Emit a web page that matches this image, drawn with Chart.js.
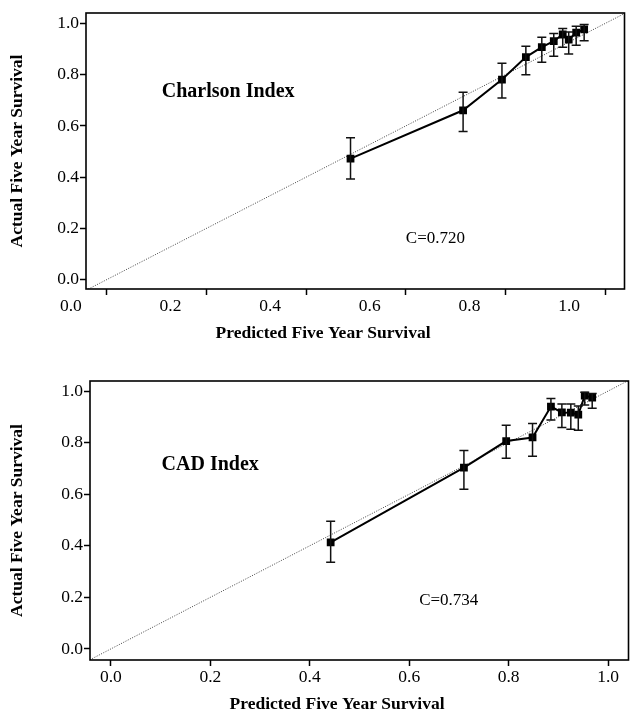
<!DOCTYPE html>
<html>
<head>
<meta charset="utf-8">
<script src="https://cdn.jsdelivr.net/npm/chart.js@4.4.1/dist/chart.umd.min.js"></script>
<style>
  html, body { margin: 0; padding: 0; background: #fff; overflow: hidden; }
  #wrap { position: relative; width: 630px; height: 713px; overflow: hidden; }
  #top { position: absolute; left: 0; top: 0; }
  #bottom { position: absolute; left: 0; top: 350px; }
</style>
</head>
<body>
<div id="wrap">
  <canvas id="top" width="630" height="350"></canvas>
  <canvas id="bottom" width="634" height="363"></canvas>
</div>
<script>
const tickValues = [0, 0.2, 0.4, 0.6, 0.8, 1.0];
const refLine = [-0.1, 1.1];

// Charlson index: predicted vs actual, with 95% bars
const charlsonPred = [0.489, 0.715, 0.793, 0.841, 0.873, 0.897, 0.915, 0.927, 0.942, 0.958];
const charlsonObs  = [0.472, 0.661, 0.781, 0.869, 0.908, 0.931, 0.957, 0.937, 0.964, 0.977];
const charlsonLo   = [0.393, 0.578, 0.709, 0.800, 0.849, 0.872, 0.907, 0.881, 0.915, 0.933];
const charlsonHi   = [0.554, 0.731, 0.845, 0.911, 0.946, 0.961, 0.980, 0.967, 0.989, 0.996];

// CAD index
const cadPred = [0.442, 0.710, 0.795, 0.848, 0.885, 0.907, 0.925, 0.940, 0.953, 0.968];
const cadObs  = [0.413, 0.703, 0.806, 0.820, 0.940, 0.917, 0.916, 0.909, 0.982, 0.975];
const cadLo   = [0.336, 0.619, 0.739, 0.747, 0.888, 0.859, 0.852, 0.848, 0.946, 0.933];
const cadHi   = [0.495, 0.769, 0.867, 0.874, 0.971, 0.950, 0.950, 0.942, 0.995, 0.991];

const serif = '"Liberation Serif", "Times New Roman", serif';

const errorBars = {
    id: 'errorBars',
    afterDatasetsDraw(chart) {
        const ds = chart.data.datasets.find(d => d.errLo);
        const { ctx, scales: { x, y } } = chart;
        ctx.save();
        ctx.strokeStyle = '#111';
        ctx.lineWidth = 1.5;
        ds.data.forEach((p, i) => {
            const px = x.getPixelForValue(p.x);
            const lo = y.getPixelForValue(ds.errLo[i]);
            const hi = y.getPixelForValue(ds.errHi[i]);
            ctx.beginPath();
            ctx.moveTo(px, lo); ctx.lineTo(px, hi);
            ctx.moveTo(px - 4.5, lo); ctx.lineTo(px + 4.5, lo);
            ctx.moveTo(px - 4.5, hi); ctx.lineTo(px + 4.5, hi);
            ctx.stroke();
        });
        ctx.restore();
    }
};

// frame round the plot, the x title and the free text
const notes = {
    id: 'notes',
    afterDraw(chart, args, opts) {
        const { ctx, chartArea: a, scales: { x, y } } = chart;
        ctx.save();
        ctx.strokeStyle = '#000';
        ctx.lineWidth = 1.6;
        ctx.strokeRect(a.left, a.top, a.right - a.left, a.bottom - a.top);
        ctx.fillStyle = '#000';
        ctx.textBaseline = 'middle';
        opts.items.forEach(t => {
            ctx.font = t.font;
            ctx.textAlign = 'left';
            ctx.fillText(t.text, x.getPixelForValue(t.x), y.getPixelForValue(t.y));
        });
        ctx.font = 'bold 17.5px ' + serif;
        ctx.textAlign = 'center';
        ctx.fillText(opts.xTitle, opts.titleX, opts.titleY);
        ctx.restore();
    }
};

function makeChart(id, cfg) {
    return new Chart(document.getElementById(id), {
        type: 'scatter',
        data: {
            datasets: [{
                data: refLine.map(v => ({ x: v, y: v })),
                showLine: true,
                borderColor: '#444',
                borderWidth: 1,
                borderDash: [1, 1.5],
                pointRadius: 0,
                order: 1
            }, {
                data: cfg.pred.map((v, i) => ({ x: v, y: cfg.obs[i] })),
                errLo: cfg.lo,
                errHi: cfg.hi,
                showLine: true,
                borderColor: '#000',
                borderWidth: 2,
                pointStyle: 'rect',
                pointRadius: 5.5,
                pointBackgroundColor: '#000',
                pointBorderWidth: 0,
                order: 0
            }]
        },
        options: {
            responsive: false,
            animation: false,
            layout: { padding: cfg.padding },
            plugins: {
                legend: { display: false },
                tooltip: { enabled: false },
                notes: {
                    items: cfg.items,
                    xTitle: 'Predicted Five Year Survival',
                    titleX: cfg.titleX,
                    titleY: cfg.titleY
                }
            },
            scales: {
                x: {
                    type: 'linear',
                    min: cfg.xMin,
                    max: cfg.xMax,
                    afterBuildTicks: s => { s.ticks = tickValues.map(v => ({ value: v })); },
                    afterFit: s => { s.height = 25; },
                    grid: { display: true, drawOnChartArea: false, drawTicks: true, tickLength: 6, tickWidth: 1.5, tickColor: '#000' },
                    border: { display: false },
                    ticks: {
                        labelOffset: cfg.labelOffset,
                        padding: 1,
                        color: '#000',
                        maxRotation: 0,
                        autoSkip: false,
                        font: { family: serif, size: 17.5 },
                        callback: v => v.toFixed(1)
                    }
                },
                y: {
                    type: 'linear',
                    min: cfg.yMin,
                    max: cfg.yMax,
                    afterBuildTicks: s => { s.ticks = tickValues.map(v => ({ value: v })); },
                    afterFit: s => { s.width = cfg.yWidth; },
                    grid: { display: true, drawOnChartArea: false, drawTicks: true, tickLength: 6, tickWidth: 1.5, tickColor: '#000' },
                    border: { display: false },
                    title: {
                        display: true,
                        text: 'Actual Five Year Survival',
                        color: '#000',
                        font: { family: serif, size: 17.5, weight: 'bold' },
                        padding: { top: 7, bottom: 0 }
                    },
                    ticks: {
                        padding: 1,
                        color: '#000',
                        font: { family: serif, size: 17.5 },
                        callback: v => v.toFixed(1)
                    }
                }
            }
        },
        plugins: [errorBars, notes]
    });
}

makeChart('top', {
    pred: charlsonPred, obs: charlsonObs, lo: charlsonLo, hi: charlsonHi,
    xMin: -0.042, xMax: 1.039, yMin: -0.037, yMax: 1.041,
    yWidth: 86,
    padding: { left: 0, top: 13, right: 3, bottom: 36 },
    labelOffset: -36,
    titleX: 323, titleY: 333,
    items: [
        { text: 'Charlson Index', x: 0.110, y: 0.734, font: 'bold 20px ' + serif },
        { text: 'C=0.720', x: 0.600, y: 0.162, font: '17px ' + serif }
    ]
});

makeChart('bottom', {
    pred: cadPred, obs: cadObs, lo: cadLo, hi: cadHi,
    xMin: -0.042, xMax: 1.041, yMin: -0.043, yMax: 1.039,
    yWidth: 90,
    padding: { left: 0, top: 31, right: 2, bottom: 28 },
    labelOffset: 0,
    titleX: 337, titleY: 354,
    items: [
        { text: 'CAD Index', x: 0.102, y: 0.714, font: 'bold 20px ' + serif },
        { text: 'C=0.734', x: 0.620, y: 0.187, font: '17px ' + serif }
    ]
});
</script>
</body>
</html>
